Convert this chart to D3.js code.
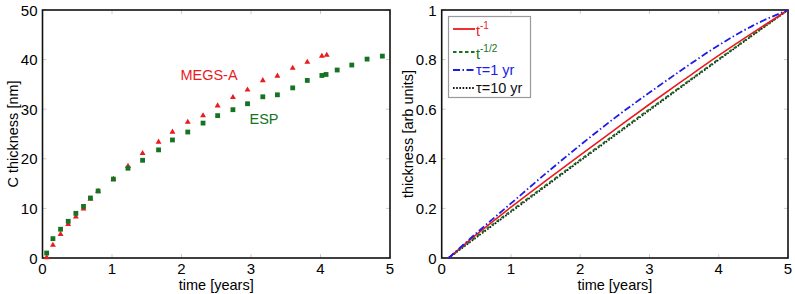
<!DOCTYPE html>
<html>
<head>
<meta charset="utf-8">
<script src="https://cdn.jsdelivr.net/npm/d3@7"></script>
<style>
  body { margin: 0; background: #fff; }
  svg { display: block; font-family: "Liberation Sans", Arial, sans-serif; }
</style>
</head>
<body>
<svg id="chart" width="795" height="294"></svg>
<script>
// left panel: measured carbon thickness
const espTime = [0.06, 0.15, 0.26, 0.37, 0.48, 0.59, 0.69, 0.80, 1.02, 1.23, 1.44, 1.67, 1.87, 2.09, 2.31, 2.52, 2.74, 2.95, 3.17, 3.38, 3.60, 3.81, 4.02, 4.08, 4.24, 4.45, 4.67, 4.89];
const espThick = [1.0, 3.9, 5.8, 7.4, 9.0, 10.4, 12.1, 13.5, 15.9, 18.1, 19.7, 21.8, 23.8, 25.4, 27.2, 28.7, 29.9, 31.1, 32.5, 32.9, 34.3, 35.8, 36.8, 37.0, 37.9, 38.9, 40.1, 40.7];
const megsTime = [0.06, 0.15, 0.26, 0.37, 0.48, 0.59, 0.69, 0.80, 1.02, 1.23, 1.44, 1.67, 1.87, 2.09, 2.31, 2.52, 2.74, 2.95, 3.17, 3.38, 3.60, 3.81, 4.02, 4.09];
const megsThick = [0.1, 2.6, 4.8, 6.8, 8.3, 9.9, 11.9, 13.5, 15.9, 18.5, 21.1, 23.4, 25.4, 27.4, 28.7, 30.7, 32.4, 33.9, 35.8, 36.7, 38.3, 39.5, 40.7, 40.9];

// right panel: model curves
const modelTime = [0.1, 0.5, 1, 1.5, 2, 2.5, 3, 3.5, 4, 4.5, 5];
const invT = [0, 0.094, 0.205, 0.311, 0.415, 0.518, 0.620, 0.719, 0.817, 0.910, 1.0];
const invSqrtT = [0, 0.086, 0.190, 0.293, 0.396, 0.498, 0.600, 0.701, 0.802, 0.902, 1.0];
const tau1 = [0, 0.100, 0.220, 0.340, 0.455, 0.565, 0.667, 0.765, 0.858, 0.938, 1.0];
const tau10 = [0, 0.083, 0.186, 0.289, 0.392, 0.494, 0.596, 0.698, 0.799, 0.900, 1.0];

const xTicks = [0, 1, 2, 3, 4, 5];
const leftYTicks = [0, 10, 20, 30, 40, 50];
const rightYTicks = [0, 0.2, 0.4, 0.6, 0.8, 1];

const red = "#ea1a1f", green = "#157322", blue = "#1c1ce8";
const svg = d3.select("#chart");
const plotTop = 10, plotBottom = 258;

function frame(x, y, xt, yt) {
  const g = svg.append("g");
  const [x0, x1] = x.range();
  // faint inward ticks on all sides
  xt.forEach(v => {
    g.append("line").attr("x1", x(v)).attr("x2", x(v)).attr("y1", plotBottom).attr("y2", plotBottom - 4).attr("stroke", "#ccc");
    g.append("line").attr("x1", x(v)).attr("x2", x(v)).attr("y1", plotTop).attr("y2", plotTop + 4).attr("stroke", "#ccc");
  });
  yt.forEach(v => {
    g.append("line").attr("x1", x0).attr("x2", x0 + 4).attr("y1", y(v)).attr("y2", y(v)).attr("stroke", "#ccc");
    g.append("line").attr("x1", x1).attr("x2", x1 - 4).attr("y1", y(v)).attr("y2", y(v)).attr("stroke", "#ccc");
  });
  g.append("rect").attr("x", x0).attr("y", plotTop).attr("width", x1 - x0).attr("height", plotBottom - plotTop)
    .attr("fill", "none").attr("stroke", "#111").attr("stroke-width", 1.6);
  g.selectAll(".xl").data(xt).join("text")
    .attr("x", d => x(d)).attr("y", 274).attr("text-anchor", "middle")
    .attr("font-size", 15).text(d => d);
  g.selectAll(".yl").data(yt).join("text")
    .attr("x", x0 - 5).attr("y", d => y(d) + 5.5).attr("text-anchor", "end")
    .attr("font-size", 15).text(d => d);
  g.append("text").attr("x", (x0 + x1) / 2).attr("y", 290).attr("text-anchor", "middle")
    .attr("font-size", 14.5).text("time [years]");
}

// ---- left panel
const xL = d3.scaleLinear().domain([0, 5]).range([42.5, 390]);
const yL = d3.scaleLinear().domain([0, 50]).range([plotBottom, plotTop]);
frame(xL, yL, xTicks, leftYTicks);
svg.append("text").attr("transform", `translate(18,${(plotTop + plotBottom) / 2}) rotate(-90)`)
  .attr("text-anchor", "middle").attr("font-size", 14.5).text("C thickness [nm]");

const tri = d3.symbol().type(d3.symbolTriangle).size(15);
svg.append("g").selectAll("path").data(megsTime).join("path")
  .attr("transform", (d, i) => `translate(${xL(d)},${yL(megsThick[i])})`)
  .attr("d", tri).attr("fill", red);
svg.append("g").selectAll("rect").data(espTime).join("rect")
  .attr("x", d => xL(d) - 2.4).attr("y", (d, i) => yL(espThick[i]) - 2.4)
  .attr("width", 4.8).attr("height", 4.8).attr("fill", green);

svg.append("text").attr("x", 209).attr("y", 80).attr("text-anchor", "middle")
  .attr("font-size", 14.5).attr("fill", red).text("MEGS-A");
svg.append("text").attr("x", 264).attr("y", 124).attr("text-anchor", "middle")
  .attr("font-size", 14.5).attr("fill", green).text("ESP");

// ---- right panel
const xR = d3.scaleLinear().domain([0, 5]).range([441.7, 788]);
const yR = d3.scaleLinear().domain([0, 1]).range([plotBottom, plotTop]);
frame(xR, yR, xTicks, rightYTicks);
svg.append("text").attr("transform", `translate(413,${(plotTop + plotBottom) / 2}) rotate(-90)`)
  .attr("text-anchor", "middle").attr("font-size", 14.5).text("thickness [arb units]");

const line = d3.line().x(d => xR(d[0])).y(d => yR(d[1])).curve(d3.curveMonotoneX);
const series = [
  { vals: tau10, color: "#111", dash: "1.6,1.6", w: 1.8 },
  { vals: invSqrtT, color: green, dash: "3.5,2.5", w: 1.8 },
  { vals: invT, color: red, dash: null, w: 1.6 },
  { vals: tau1, color: blue, dash: "7,2.5,1.5,2.5", w: 1.8 }
];
svg.append("g").selectAll("path").data(series).join("path")
  .attr("d", s => line(modelTime.map((t, i) => [t, s.vals[i]])))
  .attr("fill", "none").attr("stroke", s => s.color)
  .attr("stroke-width", s => s.w).attr("stroke-dasharray", s => s.dash);

// legend
const lg = svg.append("g");
lg.append("rect").attr("x", 448.5).attr("y", 16.5).attr("width", 82).attr("height", 81)
  .attr("fill", "#fff").attr("stroke", "#999").attr("stroke-width", 1.2);
const legendItems = [
  { base: "t", sup: "-1", color: red, dash: null, y: 29 },
  { base: "t", sup: "-1/2", color: green, dash: "3.5,2.5", y: 52 },
  { base: "τ=1 yr", sup: null, color: blue, dash: "7,2.5,1.5,2.5", y: 70 },
  { base: "τ=10 yr", sup: null, color: "#111", dash: "1.6,1.6", y: 88 }
];
legendItems.forEach(it => {
  lg.append("line").attr("x1", 453).attr("x2", 475).attr("y1", it.y).attr("y2", it.y)
    .attr("stroke", it.color).attr("stroke-width", 1.8).attr("stroke-dasharray", it.dash);
  const t = lg.append("text").attr("x", 476).attr("y", it.y + (it.sup ? 7 : 5))
    .attr("font-size", 14.5).attr("fill", it.color).text(it.base);
  if (it.sup) t.append("tspan").attr("dy", -7).attr("font-size", 10).text(it.sup);
});
</script>
</body>
</html>
